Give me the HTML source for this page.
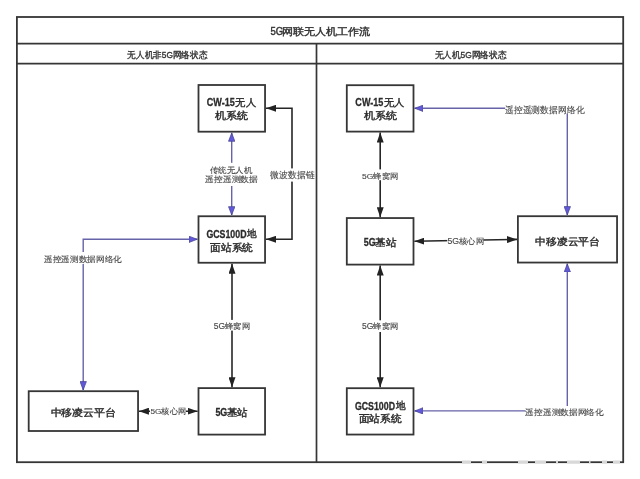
<!DOCTYPE html>
<html><head><meta charset="utf-8">
<style>
html,body{margin:0;padding:0;background:#fff;}
body{width:640px;height:479px;position:relative;overflow:hidden;font-family:"Liberation Sans",sans-serif;}
svg{position:absolute;left:0;top:0;filter:blur(0.3px);}
</style></head><body>
<svg width="640" height="479" viewBox="0 0 640 479">
<defs>
<marker id="ab" viewBox="0 0 10 7" refX="10" refY="3.5" markerWidth="10" markerHeight="7" markerUnits="userSpaceOnUse" orient="auto-start-reverse"><path d="M0,0 L10,3.5 L0,7 z" fill="#222"/></marker>
<marker id="au" viewBox="0 0 9 7" refX="9" refY="3.5" markerWidth="9" markerHeight="7" markerUnits="userSpaceOnUse" orient="auto-start-reverse"><path d="M0.3,0.3 L8.6,3.5 L0.3,6.7 z" fill="#6258dc" stroke="#44448a" stroke-width="0.7"/></marker>
</defs>
<g fill="none" stroke="#363636" stroke-width="1.8">
<rect x="16.9" y="17" width="606.3" height="445.2"/>
<line x1="17" y1="43.6" x2="623" y2="43.6"/>
<line x1="17" y1="63.6" x2="623" y2="63.6"/>
<line x1="316.5" y1="43" x2="316.5" y2="462" stroke-width="1.7"/>
<rect x="198.5" y="85" width="66.55" height="46.7"/>
<rect x="198.5" y="216.25" width="66.55" height="46.5"/>
<rect x="198.5" y="388.1" width="66.55" height="46.5"/>
<rect x="28.7" y="391.2" width="109.35" height="39.8"/>
<rect x="346.8" y="85.2" width="66.7" height="46.4"/>
<rect x="346.8" y="218.05" width="66.7" height="46.55"/>
<rect x="346.8" y="388.2" width="66.7" height="46.35"/>
<rect x="517.9" y="216.2" width="99.15" height="46.35"/>
</g>
<g fill="none" stroke="#262626" stroke-width="1.6">
<polyline points="266,108.3 292,108.3 292,239.3 266,239.3" marker-start="url(#ab)" marker-end="url(#ab)"/>
<line x1="232" y1="263.65" x2="232" y2="387.2" marker-start="url(#ab)" marker-end="url(#ab)"/>
<line x1="138.95" y1="411.2" x2="197.6" y2="411.2" marker-start="url(#ab)" marker-end="url(#ab)"/>
<line x1="380.2" y1="132.5" x2="380.2" y2="217.15" marker-start="url(#ab)" marker-end="url(#ab)"/>
<line x1="380.2" y1="265.5" x2="380.2" y2="387.3" marker-start="url(#ab)" marker-end="url(#ab)"/>
<line x1="414.4" y1="241.3" x2="517" y2="239.4" marker-start="url(#ab)" marker-end="url(#ab)"/>
</g>
<g fill="none" stroke="#6663a8" stroke-width="1.4">
<line x1="231.7" y1="132.6" x2="231.7" y2="215.35" marker-start="url(#au)" marker-end="url(#au)"/>
<polyline points="197.6,239.3 83.2,239.3 83.2,390.3" marker-start="url(#au)" marker-end="url(#au)"/>
<polyline points="567.3,215.3 567.3,108.3 414.4,108.3" marker-start="url(#au)" marker-end="url(#au)"/>
<polyline points="567.3,263.45 567.3,410.9 414.4,410.9" marker-start="url(#au)" marker-end="url(#au)"/>
</g>
<g fill="#fff" stroke="none">
<rect x="206" y="162.8" width="52" height="23.2"/>
<rect x="270" y="168.4" width="44" height="13.2"/>
<rect x="44" y="252" width="78" height="12"/>
<rect x="213" y="319.9" width="37" height="10.7"/>
<rect x="150" y="406" width="36" height="10.5"/>
<rect x="361" y="169.4" width="37" height="10.8"/>
<rect x="361" y="320.3" width="37" height="11.7"/>
<rect x="447.3" y="236" width="36.1" height="10.5"/>
<rect x="505.2" y="104" width="79" height="9.4"/>
<rect x="525.6" y="406" width="78" height="12"/>
</g>
<g fill="#fff" stroke="none">
<!-- watermark gaps on bottom border -->
<rect x="462" y="460.5" width="9" height="3" fill="#d8d8d8"/><rect x="482" y="460.5" width="5" height="3" fill="#d8d8d8"/><rect x="518" y="460.5" width="10" height="3" fill="#d8d8d8"/><rect x="535" y="460.5" width="11" height="3" fill="#d8d8d8"/><rect x="556" y="460.5" width="2" height="3" fill="#d8d8d8"/><rect x="567" y="460.5" width="13" height="3" fill="#d8d8d8"/><rect x="589" y="460.5" width="1.5" height="3" fill="#d8d8d8"/><rect x="602" y="460.5" width="5" height="3" fill="#d8d8d8"/><rect x="613" y="460.5" width="7" height="3" fill="#d8d8d8"/>
</g>
<g>
<text x="270.50" y="35.00" font-size="11.09" font-family="Liberation Sans" font-weight="normal" fill="#333" stroke="#333" stroke-width="0.45" textLength="12.70" lengthAdjust="spacingAndGlyphs">5G</text>
<text x="281.65" y="34.75" font-size="9.50" font-family="Liberation Sans" font-weight="normal" fill="#333" stroke="#333" stroke-width="0.4" textLength="88.32" lengthAdjust="spacingAndGlyphs">网联无人机工作流</text>
<text x="127.30" y="58.10" font-size="8.72" font-family="Liberation Sans" font-weight="normal" fill="#333" stroke="#333" stroke-width="0.35" textLength="80.05" lengthAdjust="spacingAndGlyphs">无人机非5G网络状态</text>
<text x="434.50" y="58.10" font-size="8.72" font-family="Liberation Sans" font-weight="normal" fill="#333" stroke="#333" stroke-width="0.35" textLength="71.95" lengthAdjust="spacingAndGlyphs">无人机5G网络状态</text>
<text x="206.75" y="106.38" font-size="11.35" font-family="Liberation Sans" font-weight="bold" fill="#2b2b2b" stroke="#2b2b2b" stroke-width="0.3" textLength="28.01" lengthAdjust="spacingAndGlyphs">CW-15</text>
<text x="235.40" y="106.00" font-size="10.47" font-family="Liberation Sans" font-weight="normal" fill="#2b2b2b" stroke="#2b2b2b" stroke-width="0.4" textLength="20.55" lengthAdjust="spacingAndGlyphs">无人</text>
<text x="215.45" y="119.28" font-size="9.99" font-family="Liberation Sans" font-weight="normal" fill="#2b2b2b" stroke="#2b2b2b" stroke-width="0.4" textLength="33.00" lengthAdjust="spacingAndGlyphs">机系统</text>
<text x="206.40" y="237.95" font-size="10.39" font-family="Liberation Sans" font-weight="bold" fill="#2b2b2b" stroke="#2b2b2b" stroke-width="0.3" textLength="40.11" lengthAdjust="spacingAndGlyphs">GCS100D</text>
<text x="247.05" y="237.15" font-size="9.77" font-family="Liberation Sans" font-weight="normal" fill="#2b2b2b" stroke="#2b2b2b" stroke-width="0.4" textLength="9.64" lengthAdjust="spacingAndGlyphs">地</text>
<text x="210.20" y="250.80" font-size="10.08" font-family="Liberation Sans" font-weight="normal" fill="#2b2b2b" stroke="#2b2b2b" stroke-width="0.4" textLength="42.63" lengthAdjust="spacingAndGlyphs">面站系统</text>
<text x="215.40" y="415.95" font-size="10.59" font-family="Liberation Sans" font-weight="bold" fill="#2b2b2b" stroke="#2b2b2b" stroke-width="0.3" textLength="11.90" lengthAdjust="spacingAndGlyphs">5G</text>
<text x="226.90" y="415.97" font-size="10.32" font-family="Liberation Sans" font-weight="normal" fill="#2b2b2b" stroke="#2b2b2b" stroke-width="0.4" textLength="20.82" lengthAdjust="spacingAndGlyphs">基站</text>
<text x="50.50" y="416.37" font-size="10.22" font-family="Liberation Sans" font-weight="normal" fill="#2b2b2b" stroke="#2b2b2b" stroke-width="0.4" textLength="65.99" lengthAdjust="spacingAndGlyphs">中移凌云平台</text>
<text x="355.35" y="106.38" font-size="11.35" font-family="Liberation Sans" font-weight="bold" fill="#2b2b2b" stroke="#2b2b2b" stroke-width="0.3" textLength="28.01" lengthAdjust="spacingAndGlyphs">CW-15</text>
<text x="384.00" y="106.00" font-size="10.47" font-family="Liberation Sans" font-weight="normal" fill="#2b2b2b" stroke="#2b2b2b" stroke-width="0.4" textLength="20.54" lengthAdjust="spacingAndGlyphs">无人</text>
<text x="363.75" y="119.28" font-size="9.99" font-family="Liberation Sans" font-weight="normal" fill="#2b2b2b" stroke="#2b2b2b" stroke-width="0.4" textLength="33.00" lengthAdjust="spacingAndGlyphs">机系统</text>
<text x="363.70" y="246.05" font-size="10.59" font-family="Liberation Sans" font-weight="bold" fill="#2b2b2b" stroke="#2b2b2b" stroke-width="0.3" textLength="11.90" lengthAdjust="spacingAndGlyphs">5G</text>
<text x="375.20" y="246.07" font-size="10.32" font-family="Liberation Sans" font-weight="normal" fill="#2b2b2b" stroke="#2b2b2b" stroke-width="0.4" textLength="21.06" lengthAdjust="spacingAndGlyphs">基站</text>
<text x="354.90" y="409.65" font-size="10.39" font-family="Liberation Sans" font-weight="bold" fill="#2b2b2b" stroke="#2b2b2b" stroke-width="0.3" textLength="40.11" lengthAdjust="spacingAndGlyphs">GCS100D</text>
<text x="395.55" y="408.85" font-size="9.77" font-family="Liberation Sans" font-weight="normal" fill="#2b2b2b" stroke="#2b2b2b" stroke-width="0.4" textLength="9.64" lengthAdjust="spacingAndGlyphs">地</text>
<text x="358.70" y="422.37" font-size="10.22" font-family="Liberation Sans" font-weight="normal" fill="#2b2b2b" stroke="#2b2b2b" stroke-width="0.4" textLength="42.85" lengthAdjust="spacingAndGlyphs">面站系统</text>
<text x="535.00" y="244.97" font-size="10.21" font-family="Liberation Sans" font-weight="normal" fill="#2b2b2b" stroke="#2b2b2b" stroke-width="0.4" textLength="65.08" lengthAdjust="spacingAndGlyphs">中移凌云平台</text>
<text x="209.80" y="172.85" font-size="8.05" font-family="Liberation Sans" font-weight="normal" fill="#474747" stroke="#474747" stroke-width="0.12" textLength="42.31" lengthAdjust="spacingAndGlyphs">传统无人机</text>
<text x="205.10" y="182.40" font-size="8.28" font-family="Liberation Sans" font-weight="normal" fill="#474747" stroke="#474747" stroke-width="0.12" textLength="52.85" lengthAdjust="spacingAndGlyphs">遥控遥测数据</text>
<text x="270.40" y="177.82" font-size="8.65" font-family="Liberation Sans" font-weight="normal" fill="#474747" stroke="#474747" stroke-width="0.12" textLength="44.27" lengthAdjust="spacingAndGlyphs">微波数据链</text>
<text x="43.95" y="261.75" font-size="8.40" font-family="Liberation Sans" font-weight="normal" fill="#474747" stroke="#474747" stroke-width="0.12" textLength="78.00" lengthAdjust="spacingAndGlyphs">遥控遥测数据网络化</text>
<text x="213.75" y="328.72" font-size="8.22" font-family="Liberation Sans" font-weight="normal" fill="#474747" stroke="#474747" stroke-width="0.12" textLength="36.37" lengthAdjust="spacingAndGlyphs">5G蜂窝网</text>
<text x="150.45" y="413.95" font-size="8.05" font-family="Liberation Sans" font-weight="normal" fill="#474747" stroke="#474747" stroke-width="0.12" textLength="35.71" lengthAdjust="spacingAndGlyphs">5G核心网</text>
<text x="361.95" y="178.53" font-size="8.11" font-family="Liberation Sans" font-weight="normal" fill="#474747" stroke="#474747" stroke-width="0.12" textLength="36.54" lengthAdjust="spacingAndGlyphs">5G蜂窝网</text>
<text x="361.95" y="329.43" font-size="8.22" font-family="Liberation Sans" font-weight="normal" fill="#474747" stroke="#474747" stroke-width="0.12" textLength="36.52" lengthAdjust="spacingAndGlyphs">5G蜂窝网</text>
<text x="447.45" y="244.45" font-size="8.40" font-family="Liberation Sans" font-weight="normal" fill="#474747" stroke="#474747" stroke-width="0.12" textLength="36.59" lengthAdjust="spacingAndGlyphs">5G核心网</text>
<text x="505.10" y="112.65" font-size="8.62" font-family="Liberation Sans" font-weight="normal" fill="#474747" stroke="#474747" stroke-width="0.12" textLength="79.21" lengthAdjust="spacingAndGlyphs">遥控遥测数据网络化</text>
<text x="525.40" y="415.10" font-size="8.17" font-family="Liberation Sans" font-weight="normal" fill="#474747" stroke="#474747" stroke-width="0.12" textLength="78.40" lengthAdjust="spacingAndGlyphs">遥控遥测数据网络化</text>
</g>
</svg>
</body></html>
